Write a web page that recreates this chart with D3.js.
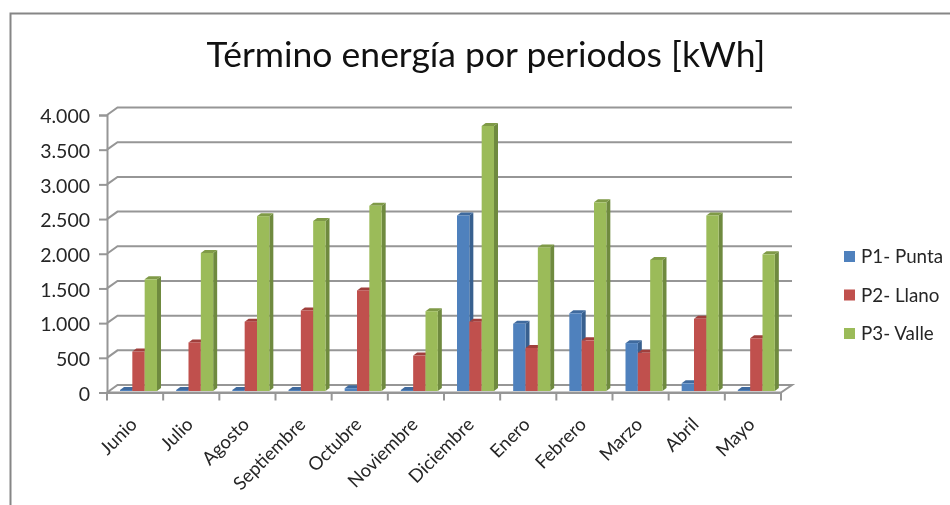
<!DOCTYPE html>
<html>

<head>
    <meta charset="utf-8">
    <title>Término energía</title>
    <script src="https://cdn.jsdelivr.net/npm/d3@7"></script>
    <style>
        html,
        body {
            margin: 0;
            padding: 0;
            background: #fff;
        }

        svg {
            display: block;
            font-family: Lato, "Open Sans", sans-serif;
            filter: blur(0.4px);
        }
    </style>
</head>

<body>
    <svg class="main" width="950" height="505"></svg>
</body>

<script>
    var months = ['Junio', 'Julio', 'Agosto', 'Septiembre', 'Octubre', 'Noviembre', 'Diciembre', 'Enero', 'Febrero', 'Marzo', 'Abril', 'Mayo'];
    var seriesNames = ['P1- Punta', 'P2- Llano', 'P3- Valle'];
    var p1 = [15, 15, 15, 15, 40, 15, 2530, 970, 1120, 690, 110, 15];
    var p2 = [568, 700, 1000, 1160, 1450, 510, 1000, 620, 730, 550, 1040, 760];
    var p3 = [1610, 1990, 2520, 2450, 2670, 1150, 3820, 2070, 2720, 1890, 2530, 1970];
    var yTicks = [0, 500, 1000, 1500, 2000, 2500, 3000, 3500, 4000];

    var front = ['#4f81bd', '#c0504d', '#9bbb59'];
    var side = ['#38608f', '#8e3a38', '#6f8a3f'];
    var topc = ['#3f6a9e', '#a03f3c', '#7f9a47'];
    var lineColor = '#969696';
    var textColor = '#262626';

    var svg = d3.select('svg');

    // depth of the fake 3d box
    var depthX = 10.5, depthY = 7.5;
    var barD = 4, barDy = 3;

    var x = d3.scaleBand().domain(months).range([107, 781]);
    var y = d3.scaleLinear().domain([0, 4000]).range([392.5, 115]);
    var xBar = d3.scaleBand().domain([0, 1, 2]).range([13, 50]);
    var es = d3.formatLocale({ decimal: ',', thousands: '.', grouping: [3], currency: ['', '€'] });

    // frame
    svg.append('path')
        .attr('d', 'M10.5,505V13.5H950')
        .attr('fill', 'none')
        .attr('stroke', '#868686')
        .attr('stroke-width', 2);

    svg.append('text')
        .attr('x', 486)
        .attr('y', 67)
        .attr('text-anchor', 'middle')
        .attr('font-size', 35.5)
        .attr('fill', '#111')
        .text('Término energía por periodos [kWh]');

    // floor
    var x0 = x.range()[0], x1 = x.range()[1];
    svg.append('path')
        .attr('d', 'M' + x0 + ',' + y(0) + 'L' + (x0 + depthX) + ',' + (y(0) - depthY) + 'H' + (x1 + depthX + 0.5) + 'L' + x1 + ',' + y(0) + 'Z')
        .attr('fill', '#fff')
        .attr('stroke', lineColor)
        .attr('stroke-width', 2);

    // gridlines on the back wall and the left side
    svg.append('g').selectAll('path')
        .data(yTicks.slice(1))
        .enter()
        .append('path')
        .attr('d', function (d) {
            return 'M' + x0 + ',' + y(d) + 'L' + (x0 + depthX) + ',' + (y(d) - depthY) + 'H' + (x1 + depthX + 0.5);
        })
        .attr('fill', 'none')
        .attr('stroke', lineColor)
        .attr('stroke-width', 2);

    // bars
    var rows = [p1, p2, p3];
    var base = y(0) - 1.5;
    rows.forEach(function (values, s) {
        var g = svg.append('g');
        var w = xBar.bandwidth();
        var barLeft = function (i) { return x(months[i]) + xBar(s); };
        var barTop = function (d) { return base - (y(0) - y(d)); };

        g.selectAll('path.side')
            .data(values)
            .enter()
            .append('path')
            .attr('class', 'side')
            .attr('fill', side[s])
            .attr('d', function (d, i) {
                var r = barLeft(i) + w, t = barTop(d);
                return 'M' + r + ',' + t + 'l' + barD + ',' + (-barDy) + 'V' + (base - barDy) + 'l' + (-barD) + ',' + barDy + 'Z';
            });

        g.selectAll('path.top')
            .data(values)
            .enter()
            .append('path')
            .attr('class', 'top')
            .attr('fill', topc[s])
            .attr('d', function (d, i) {
                var l = barLeft(i), t = barTop(d);
                return 'M' + l + ',' + t + 'l' + barD + ',' + (-barDy) + 'h' + w + 'l' + (-barD) + ',' + barDy + 'Z';
            });

        g.selectAll('rect')
            .data(values)
            .enter()
            .append('rect')
            .attr('x', function (d, i) { return barLeft(i); })
            .attr('y', function (d) { return barTop(d); })
            .attr('width', w)
            .attr('height', function (d) { return base - barTop(d); })
            .attr('fill', front[s]);
    });

    // axes
    var yAxis = d3.axisLeft(y).tickValues(yTicks).tickSize(8).tickPadding(9).tickFormat(es.format(','));
    var yG = svg.append('g').attr('transform', 'translate(' + x0 + ',0)').call(yAxis);

    var xAxis = d3.axisBottom(x).tickValues([]).tickSizeOuter(0);
    var xG = svg.append('g').attr('transform', 'translate(0,' + y(0) + ')').call(xAxis);

    // ticks sit between the categories
    xG.selectAll('line.sep')
        .data(months.concat(['end']))
        .enter()
        .append('line')
        .attr('class', 'sep')
        .attr('x1', function (d, i) { return x0 + i * x.step(); })
        .attr('x2', function (d, i) { return x0 + i * x.step(); })
        .attr('y1', 0)
        .attr('y2', 8)
        .attr('stroke', lineColor)
        .attr('stroke-width', 2);

    xG.selectAll('text.lab')
        .data(months)
        .enter()
        .append('text')
        .attr('class', 'lab')
        .attr('text-anchor', 'end')
        .attr('font-family', 'Lato')
        .attr('font-size', 18.5)
        .attr('fill', textColor)
        .attr('transform', function (d) {
            return 'translate(' + (x(d) + x.bandwidth() / 2 + 3) + ',33) rotate(-45)';
        })
        .text(function (d) { return d; });

    yG.selectAll('path.domain, line').attr('stroke', lineColor).attr('stroke-width', 2);
    xG.select('path.domain').attr('stroke', lineColor).attr('stroke-width', 2);
    yG.selectAll('text').attr('font-size', 19.5).attr('font-family', 'Lato').attr('fill', textColor).attr('dy', '0.40em');

    // legend
    var ly = d3.scalePoint().domain(seriesNames).range([257, 334]);
    var leg = svg.append('g').selectAll('g')
        .data(seriesNames)
        .enter()
        .append('g')
        .attr('transform', function (d) { return 'translate(844,' + ly(d) + ')'; });
    leg.append('rect')
        .attr('y', -6)
        .attr('width', 11)
        .attr('height', 11)
        .attr('fill', function (d, i) { return front[i]; });
    leg.append('text')
        .attr('x', 17)
        .attr('y', 6)
        .attr('font-size', 18.8)
        .attr('fill', textColor)
        .text(function (d) { return d; });
</script>

</html>
